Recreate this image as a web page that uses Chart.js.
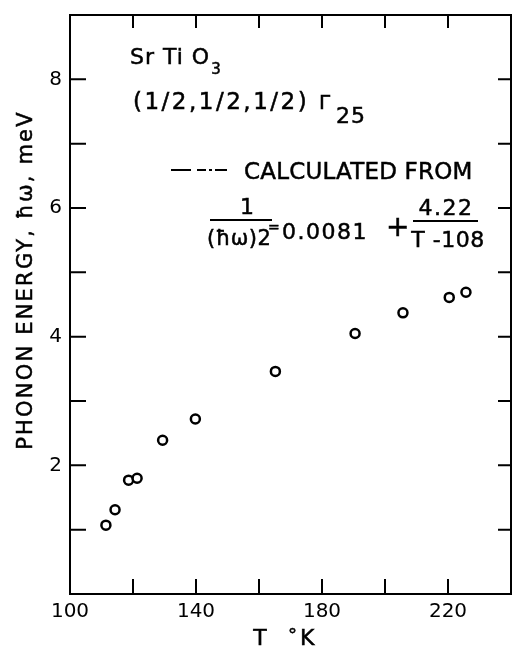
<!DOCTYPE html>
<html>
  <head>
    <title>SrTiO3 phonon energy</title>
    <script src="https://cdn.jsdelivr.net/npm/chart.js"></script>
    <style>
      body { margin: 0; background: #fff; }
      canvas { display: block; }
    </style>
  </head>
  <body>
    <canvas id="phonon-chart" width="513" height="647"></canvas>
    <script>
      // T (deg K) and phonon energy (meV)
      var temps = [111.4, 114.3, 118.6, 121.3, 129.4, 139.8, 165.2, 190.5, 205.7, 220.4, 225.7];
      var energies = [1.07, 1.31, 1.77, 1.80, 2.39, 2.72, 3.46, 4.05, 4.37, 4.61, 4.69];
      var xLabels = [100, 140, 180, 220];
      var yLabels = [2, 4, 6, 8];

      var FONT = 'DejaVu Sans';

      function txt(ctx, s, x, y, size, align, spacing) {
        ctx.font = size + 'px "' + FONT + '"';
        ctx.textAlign = align || 'left';
        ctx.textBaseline = 'alphabetic';
        ctx.letterSpacing = (spacing || 0) + 'px';
        ctx.fillText(s, x, y);
        ctx.lineWidth = 0.5;
        ctx.strokeText(s, x, y);
        var w = ctx.measureText(s).width;
        ctx.letterSpacing = '0px';
        return w;
      }

      // frame, inward ticks and the text labels
      var framePlugin = {
        id: 'frame',
        afterDraw: function (chart) {
          var ctx = chart.ctx;
          var a = chart.chartArea;
          var xs = chart.scales.x;
          var ys = chart.scales.y;
          ctx.save();
          ctx.strokeStyle = '#000';
          ctx.fillStyle = '#000';
          ctx.lineWidth = 2;
          ctx.strokeRect(a.left, a.top, a.right - a.left, a.bottom - a.top);

          ctx.beginPath();
          xs.ticks.forEach(function (t) {
            if (t.value <= xs.min || t.value >= xs.max) return;
            var px = xs.getPixelForValue(t.value);
            ctx.moveTo(px, a.bottom); ctx.lineTo(px, a.bottom - 15);
            ctx.moveTo(px, a.top); ctx.lineTo(px, a.top + 13);
          });
          ys.ticks.forEach(function (t) {
            if (t.value <= ys.min || t.value >= ys.max) return;
            var py = ys.getPixelForValue(t.value);
            ctx.moveTo(a.left, py); ctx.lineTo(a.left + 16, py);
            ctx.moveTo(a.right, py); ctx.lineTo(a.right - 13, py);
          });
          ctx.stroke();

          // sample name
          var w = txt(ctx, 'Sr Ti O', 130, 64, 22, 'left', 1);
          txt(ctx, '3', 130 + w + 1, 74, 15);
          txt(ctx, '(1/2,1/2,1/2)', 133, 109, 23, 'left', 2.5);
          txt(ctx, '\u0393', 319, 109, 20);
          txt(ctx, '25', 336, 123, 22, 'left', 1);

          // legend line (dash-dot) and formula
          ctx.lineWidth = 1.8;
          ctx.setLineDash([20, 6, 9, 3, 3, 3, 12, 40]);
          ctx.beginPath();
          ctx.moveTo(171, 170); ctx.lineTo(240, 170);
          ctx.stroke();
          ctx.setLineDash([]);
          txt(ctx, 'CALCULATED FROM', 244, 179, 23, 'left', 0.2);

          txt(ctx, '1', 247, 214, 22, 'center');
          ctx.lineWidth = 2;
          ctx.beginPath();
          ctx.moveTo(210, 220); ctx.lineTo(272, 220);
          ctx.moveTo(413, 221); ctx.lineTo(478, 221);
          ctx.stroke();
          txt(ctx, '(\u0127\u03c9)2', 207, 245, 21, 'left', 0.5);
          txt(ctx, '=', 268, 232, 14);
          txt(ctx, '0.0081', 282, 239, 22, 'left', 1.5);
          txt(ctx, '+', 386, 236, 28);
          txt(ctx, '4.22', 446, 215, 22, 'center', 1.5);
          txt(ctx, 'T -108', 448, 247, 22, 'center', 0.5);

          // axis titles
          txt(ctx, 'T', 260, 645, 22, 'center');
          txt(ctx, '\u00b0', 288, 641, 18);
          txt(ctx, 'K', 300, 645, 22);

          ctx.translate(32, 280);
          ctx.rotate(-Math.PI / 2);
          txt(ctx, 'PHONON ENERGY, \u0127\u03c9, meV', 0, 0, 21, 'center', 2.2);
          ctx.restore();
        },
      };

      var points = temps.map(function (t, i) {
        return { x: t, y: energies[i] };
      });

      var chartData = {
        datasets: [
          {
            label: 'measured',
            data: points,
            pointStyle: 'circle',
            pointRadius: 4.5,
            borderWidth: 2.5,
            borderColor: '#000',
            backgroundColor: '#fff',
            showLine: false,
          },
        ],
      };

      var chartOptions = {
        responsive: false,
        animation: false,
        devicePixelRatio: 1,
        layout: { autoPadding: false, padding: { top: 15, right: 2, left: 0, bottom: 0 } },
        plugins: { legend: { display: false }, tooltip: { enabled: false } },
        scales: {
          x: {
            type: 'linear',
            min: 100,
            max: 240,
            afterFit: function (s) {
              s.height = 53;
              s.paddingLeft = 0;
              s.paddingRight = 0;
            },
            border: { display: false },
            grid: { display: false, drawTicks: false },
            ticks: {
              stepSize: 20,
              padding: 6,
              color: '#000',
              font: { family: FONT, size: 20 },
              maxRotation: 0,
              autoSkip: false,
              callback: function (v) { return xLabels.indexOf(v) >= 0 ? String(v) : ''; },
            },
          },
          y: {
            type: 'linear',
            min: 0,
            max: 9,
            afterFit: function (s) {
              s.width = 70;
              s.paddingTop = 0;
              s.paddingBottom = 0;
            },
            border: { display: false },
            grid: { display: false, drawTicks: false },
            ticks: {
              stepSize: 1,
              padding: 8,
              color: '#000',
              font: { family: FONT, size: 20 },
              autoSkip: false,
              callback: function (v) { return yLabels.indexOf(v) >= 0 ? String(v) : ''; },
            },
          },
        },
      };

      var ctx = document.getElementById('phonon-chart').getContext('2d');
      var phononChart = new Chart(ctx, {
        type: 'scatter',
        data: chartData,
        options: chartOptions,
        plugins: [framePlugin],
      });
    </script>
  </body>
</html>
